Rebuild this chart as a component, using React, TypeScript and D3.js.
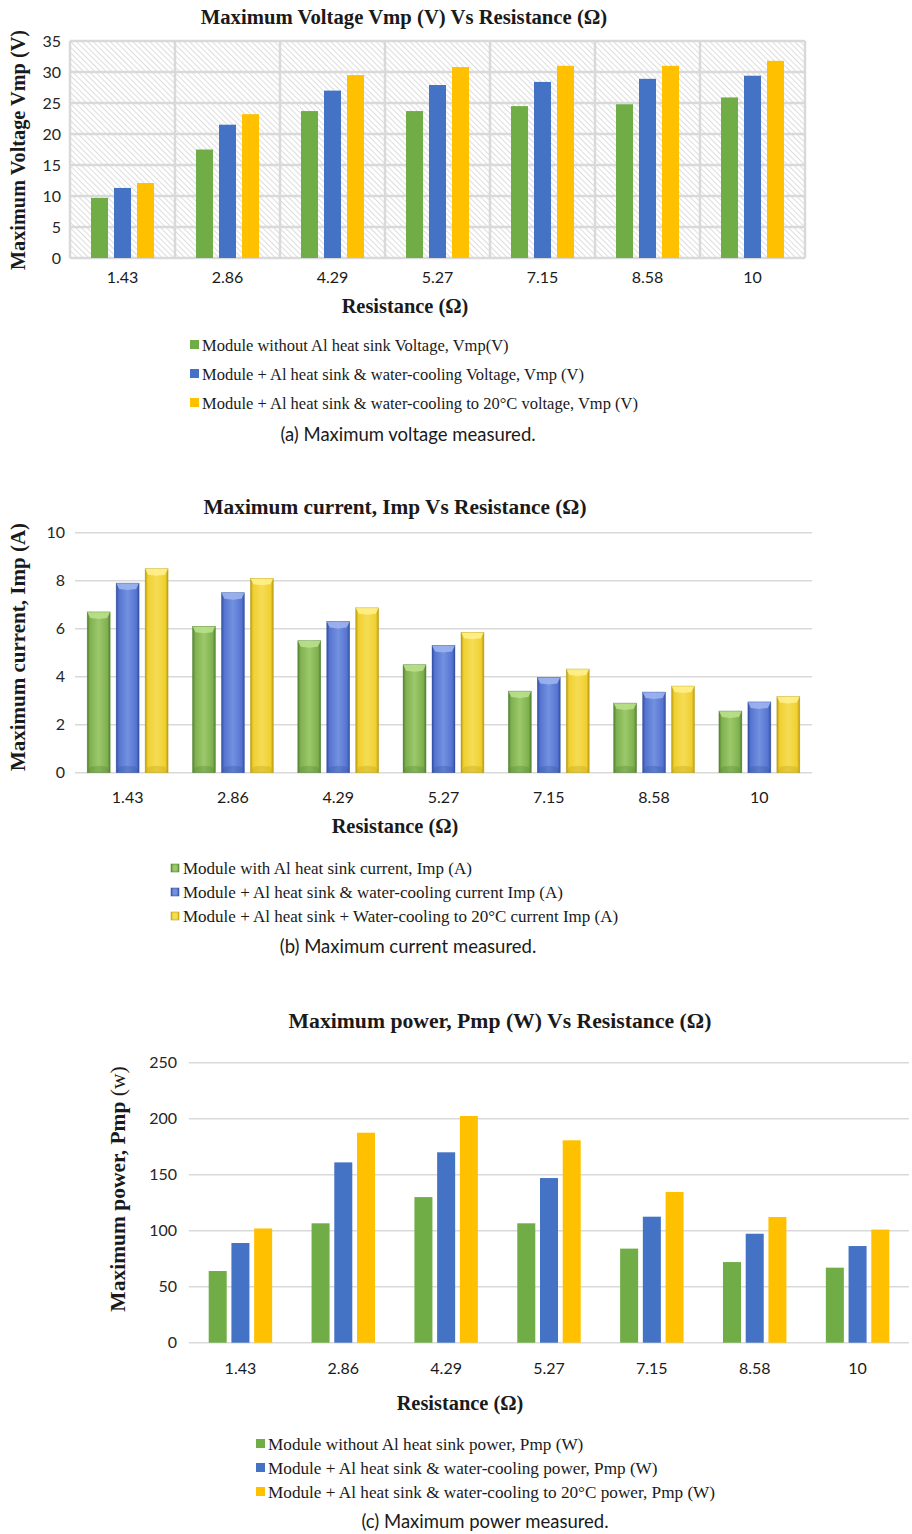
import React from "react";
import * as d3 from "d3";

const categories = ["1.43", "2.86", "4.29", "5.27", "7.15", "8.58", "10"];

const voltageNoSink = [9.7, 17.5, 23.7, 23.7, 24.5, 24.8, 25.9];
const voltageWater = [11.3, 21.5, 27.0, 27.9, 28.4, 28.9, 29.4];
const voltage20C = [12.1, 23.2, 29.5, 30.8, 31.0, 31.0, 31.8];
const voltageTicks = [0, 5, 10, 15, 20, 25, 30, 35];
const voltageLegend = [
  "Module without Al heat sink Voltage, Vmp(V)",
  "Module + Al heat sink & water-cooling Voltage, Vmp (V)",
  "Module + Al heat sink & water-cooling to 20°C voltage, Vmp (V)",
];

const currentSink = [6.7, 6.1, 5.5, 4.5, 3.4, 2.9, 2.57];
const currentWater = [7.9, 7.5, 6.3, 5.3, 3.97, 3.36, 2.95];
const current20C = [8.5, 8.1, 6.87, 5.85, 4.32, 3.61, 3.17];
const currentTicks = [0, 2, 4, 6, 8, 10];
const currentLegend = [
  "Module with Al heat sink current, Imp (A)",
  "Module + Al heat sink & water-cooling current Imp (A)",
  "Module + Al heat sink + Water-cooling to 20°C current Imp (A)",
];

const powerNoSink = [64, 106.6, 130, 106.6, 84, 72, 67];
const powerWater = [89, 161, 170, 147, 112.5, 97.3, 86.3];
const power20C = [102, 187.5, 202.4, 180.7, 134.6, 112.2, 101];
const powerTicks = [0, 50, 100, 150, 200, 250];
const powerLegend = [
  "Module without Al heat sink power, Pmp (W)",
  "Module + Al heat sink & water-cooling power, Pmp (W)",
  "Module + Al heat sink & water-cooling to 20°C power, Pmp (W)",
];

const seriesKeys = ["s0", "s1", "s2"];
const COLORS = ["#70AD47", "#4472C4", "#FFC000"];
const BEVEL = [
  { dark: "#4f7f30", mid: "#7fb04f", light: "#9cc96b", cap: "#b9e08a" },
  { dark: "#2f4ea0", mid: "#5674d0", light: "#7391e0", cap: "#9db4f0" },
  { dark: "#b89a10", mid: "#f0d030", light: "#f5dc55", cap: "#fff08a" },
];

const SERIF = "'Liberation Serif', 'Times New Roman', serif";
const SANS = "Lato, 'Open Sans', sans-serif";

type ChartCfg = {
  values: number[][];
  ticks: number[];
  yMax: number;
  left: number;
  right: number;
  top: number;
  bottom: number;
  groupPad: number;
  barPadInner: number;
  title: string;
  titleX: number;
  titleY: number;
  titleSize: number;
  yLabel: React.ReactNode;
  yLabelX: number;
  yLabelY: number;
  yLabelSize: number;
  tickX: number;
  xTickY: number;
  xTitleX: number;
  xTitleY: number;
  legend: string[];
  legendX: number;
  legendY: number;
  legendStep: number;
  legendSize: number;
  caption: string;
  captionX: number;
  captionY: number;
  hatched?: boolean;
  bevel?: boolean;
};

function Chart({ cfg, id }: { cfg: ChartCfg; id: string }) {
  const y = d3.scaleLinear().domain([0, cfg.yMax]).range([cfg.bottom, cfg.top]);
  const x0 = d3.scaleBand<string>().domain(categories).range([cfg.left, cfg.right]).padding(0);
  const step = x0.step();
  const x1 = d3
    .scaleBand<string>()
    .domain(seriesKeys)
    .range([cfg.groupPad, step - cfg.groupPad])
    .paddingInner(cfg.barPadInner)
    .paddingOuter(0);
  const bw = x1.bandwidth();
  const gridColor = "#d9d9d9";

  return (
    <g>
      <defs>
        {cfg.hatched && (
          <pattern id={`hatch-${id}`} width="4" height="4" patternUnits="userSpaceOnUse" patternTransform="rotate(-45)">
            <rect width="4" height="4" fill="#ffffff" />
            <line x1="0" y1="0" x2="0" y2="4" stroke="#d2d2d2" strokeWidth="1.5" />
          </pattern>
        )}
        {cfg.bevel &&
          BEVEL.map((b, i) => (
            <linearGradient key={i} id={`grad-${id}-${i}`} x1="0" x2="1" y1="0" y2="0">
              <stop offset="0" stopColor={b.dark} />
              <stop offset="0.12" stopColor={b.mid} />
              <stop offset="0.5" stopColor={b.light} />
              <stop offset="0.88" stopColor={b.mid} />
              <stop offset="1" stopColor={b.dark} />
            </linearGradient>
          ))}
      </defs>
      <text x={cfg.titleX} y={cfg.titleY} textAnchor="middle" fontFamily={SERIF} fontWeight="bold" fontSize={cfg.titleSize} fill="#1a1a1a">
        {cfg.title}
      </text>
      {cfg.hatched && (
        <rect x={cfg.left} y={cfg.top} width={cfg.right - cfg.left} height={cfg.bottom - cfg.top} fill={`url(#hatch-${id})`} />
      )}
      {cfg.ticks.map((t) => (
        <line
          key={"g" + t}
          x1={cfg.left}
          x2={cfg.right}
          y1={y(t)}
          y2={y(t)}
          stroke={gridColor}
          strokeWidth={cfg.hatched ? 2.5 : 1.6}
        />
      ))}
      {cfg.hatched &&
        d3.range(categories.length + 1).map((i) => (
          <line
            key={"v" + i}
            x1={cfg.left + i * step}
            x2={cfg.left + i * step}
            y1={cfg.top}
            y2={cfg.bottom}
            stroke={gridColor}
            strokeWidth={2.5}
          />
        ))}
      {cfg.ticks.map((t) => (
        <text key={"t" + t} x={cfg.tickX} y={y(t)} dy="0.35em" textAnchor="end" fontFamily={SANS} fontSize={16} fill="#262626">
          {t}
        </text>
      ))}
      {categories.map((c, ci) => (
        <g key={c} transform={`translate(${x0(c)},0)`}>
          {seriesKeys.map((s, si) => {
            const v = cfg.values[si][ci];
            const bx = x1(s)!;
            const by = y(v);
            const h = cfg.bottom - by;
            if (!cfg.bevel) {
              return <rect key={s} x={bx} y={by} width={bw} height={h} fill={COLORS[si]} />;
            }
            const b = BEVEL[si];
            const cap = 6;
            return (
              <g key={s}>
                <rect x={bx} y={by} width={bw} height={h} fill={`url(#grad-${id}-${si})`} />
                <polygon
                  points={`${bx},${by} ${bx + bw},${by} ${bx + bw - 3},${by + cap} ${bx + bw / 2},${by + cap + 1} ${bx + 3},${by + cap}`}
                  fill={b.cap}
                  opacity={0.9}
                />
                <polygon
                  points={`${bx},${cfg.bottom} ${bx + bw},${cfg.bottom} ${bx + bw - 3},${cfg.bottom - cap} ${bx + bw / 2},${cfg.bottom - cap - 1} ${bx + 3},${cfg.bottom - cap}`}
                  fill={b.dark}
                  opacity={0.3}
                />
                <rect x={bx} y={by} width={bw} height={h} fill="none" stroke={b.dark} strokeWidth={0.6} opacity={0.6} />
              </g>
            );
          })}
        </g>
      ))}
      {categories.map((c) => (
        <text
          key={"x" + c}
          x={x0(c)! + step / 2}
          y={cfg.xTickY}
          textAnchor="middle"
          fontFamily={SANS}
          fontSize={16}
          fill="#1a1a1a"
        >
          {c}
        </text>
      ))}
      <text
        transform={`translate(${cfg.yLabelX},${cfg.yLabelY}) rotate(-90)`}
        textAnchor="middle"
        fontFamily={SERIF}
        fontWeight="bold"
        fontSize={cfg.yLabelSize}
        fill="#1a1a1a"
      >
        {cfg.yLabel}
      </text>
      <text x={cfg.xTitleX} y={cfg.xTitleY} textAnchor="middle" fontFamily={SERIF} fontWeight="bold" fontSize={20.4} fill="#1a1a1a">
        Resistance (Ω)
      </text>
      {cfg.legend.map((l, i) => (
        <g key={l} transform={`translate(${cfg.legendX},${cfg.legendY + i * cfg.legendStep})`}>
          {cfg.bevel ? (
            <g>
              <rect x={-12} y={-10} width={8} height={8} fill={`url(#grad-${id}-${i})`} stroke={BEVEL[i].dark} strokeWidth={0.5} />
              <rect x={-10} y={-8} width={4} height={4} fill={BEVEL[i].light} />
            </g>
          ) : (
            <rect x={-12} y={-11} width={9} height={9} fill={COLORS[i]} />
          )}
          <text x={0} y={0} fontFamily={SERIF} fontSize={cfg.legendSize} fill="#1a1a1a">
            {l}
          </text>
        </g>
      ))}
      <text x={cfg.captionX} y={cfg.captionY} textAnchor="middle" fontFamily={SANS} fontSize={18.5} fill="#1a1a1a">
        {cfg.caption}
      </text>
    </g>
  );
}

const chartA: ChartCfg = {
  values: [voltageNoSink, voltageWater, voltage20C],
  ticks: voltageTicks,
  yMax: 35,
  left: 70,
  right: 805,
  top: 41,
  bottom: 258,
  groupPad: 21,
  barPadInner: 6 / 23,
  title: "Maximum Voltage Vmp (V)  Vs Resistance (Ω)",
  titleX: 404,
  titleY: 24,
  titleSize: 20.7,
  yLabel: "Maximum Voltage Vmp (V)",
  yLabelX: 25,
  yLabelY: 150,
  yLabelSize: 20.3,
  tickX: 61,
  xTickY: 283,
  xTitleX: 405,
  xTitleY: 313,
  legend: voltageLegend,
  legendX: 202,
  legendY: 351,
  legendStep: 29,
  legendSize: 16.5,
  caption: "(a) Maximum voltage measured.",
  captionX: 408,
  captionY: 441,
  hatched: true,
};

const chartB: ChartCfg = {
  values: [currentSink, currentWater, current20C],
  ticks: currentTicks,
  yMax: 10,
  left: 75,
  right: 812,
  top: 532.7,
  bottom: 772.7,
  groupPad: 12.2,
  barPadInner: 6 / 29,
  title: "Maximum current, Imp Vs Resistance (Ω)",
  titleX: 395,
  titleY: 514,
  titleSize: 21.3,
  yLabel: "Maximum current, Imp (A)",
  yLabelX: 25,
  yLabelY: 647,
  yLabelSize: 21,
  tickX: 65,
  xTickY: 803,
  xTitleX: 395,
  xTitleY: 833,
  legend: currentLegend,
  legendX: 183,
  legendY: 874,
  legendStep: 24,
  legendSize: 17,
  caption: "(b) Maximum current measured.",
  captionX: 408,
  captionY: 953,
  bevel: true,
};

const chartC: ChartCfg = {
  values: [powerNoSink, powerWater, power20C],
  ticks: powerTicks,
  yMax: 250,
  left: 189,
  right: 909,
  top: 1062.7,
  bottom: 1342.7,
  groupPad: 19.7,
  barPadInner: 4.7 / 22.7,
  title: "Maximum power, Pmp (W) Vs Resistance (Ω)",
  titleX: 500,
  titleY: 1028,
  titleSize: 21.7,
  yLabel: (
    <>
      <tspan>Maximum power, Pmp </tspan>
      <tspan fontWeight="normal">(w)</tspan>
    </>
  ),
  yLabelX: 125,
  yLabelY: 1189,
  yLabelSize: 21.5,
  tickX: 177,
  xTickY: 1374,
  xTitleX: 460,
  xTitleY: 1410,
  legend: powerLegend,
  legendX: 268,
  legendY: 1450,
  legendStep: 24,
  legendSize: 17.2,
  caption: "(c) Maximum power measured.",
  captionX: 485,
  captionY: 1528,
};

export default function App() {
  return (
    <svg
      width={912}
      height={1534}
      viewBox="0 0 912 1534"
      style={{ position: "absolute", left: 0, top: 0, background: "#fff" }}
    >
      <rect width={912} height={1534} fill="#fff" />
      <Chart cfg={chartA} id="a" />
      <Chart cfg={chartB} id="b" />
      <Chart cfg={chartC} id="c" />
    </svg>
  );
}
